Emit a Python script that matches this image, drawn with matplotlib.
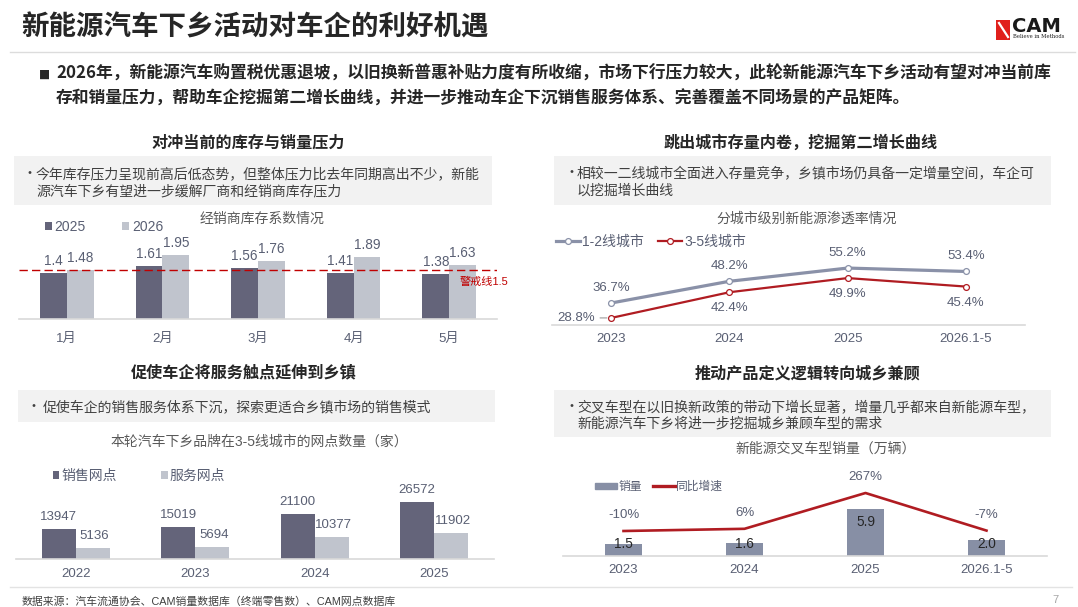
import matplotlib
matplotlib.use("Agg")
import matplotlib.pyplot as plt
from matplotlib.patches import Rectangle, Patch
from matplotlib.lines import Line2D

plt.rcParams['font.family'] = ['Liberation Sans', 'Noto Sans CJK SC', 'DejaVu Sans']
plt.rcParams['axes.unicode_minus'] = False

# ---- data ----
months = ['1月', '2月', '3月', '4月', '5月']
stock_2025 = [1.40, 1.61, 1.56, 1.41, 1.38]
stock_2026 = [1.48, 1.95, 1.76, 1.89, 1.63]
warn_level = 1.5

city_years = ['2023', '2024', '2025', '2026.1-5']
tier12 = [36.7, 48.2, 55.2, 53.4]
tier35 = [28.8, 42.4, 49.9, 45.4]

outlet_years = ['2022', '2023', '2024', '2025']
sales_outlets = [13947, 15019, 21100, 26572]
service_outlets = [5136, 5694, 10377, 11902]

cross_years = ['2023', '2024', '2025', '2026.1-5']
cross_sales = [1.5, 1.6, 5.9, 2.0]
cross_yoy = [-10, 6, 267, -7]

# ---- colours ----
DARK = '#262626'
TXT = '#404040'
SUB = '#595959'
LBL = '#595f73'
AXL = '#d9d9d9'
BOX = '#f2f2f2'
BAR_DARK = '#64647a'
BAR_LIGHT = '#c0c4cd'
BAR_MID = '#878fa5'
LINE_GRAY = '#8a91a8'
RED = '#b01c22'

CJK = ['Noto Sans CJK SC', 'DejaVu Sans']

W, H = 1078, 607
fig = plt.figure(figsize=(W / 100, H / 100), dpi=100)
fig.patch.set_facecolor('white')


def px_axes(x0, y0, x1, y1):
    ax = fig.add_axes([x0 / W, 1 - y1 / H, (x1 - x0) / W, (y1 - y0) / H])
    ax.patch.set_alpha(0)
    for s in ['top', 'right', 'left']:
        ax.spines[s].set_visible(False)
    ax.spines['bottom'].set_color(AXL)
    ax.spines['bottom'].set_linewidth(1.2)
    ax.set_yticks([])
    ax.tick_params(axis='x', length=0, labelsize=9.5, labelcolor=LBL)
    return ax


def ftext(x, y, s, **kw):
    kw.setdefault('va', 'center')
    return fig.text(x / W, 1 - y / H, s, **kw)


def fbox(x0, y0, x1, y1, color):
    fig.patches.append(Rectangle((x0 / W, 1 - y1 / H), (x1 - x0) / W, (y1 - y0) / H,
                                 transform=fig.transFigure, facecolor=color,
                                 edgecolor='none', zorder=0))


def fline(x0, x1, y, color, lw=1.0):
    fig.add_artist(Line2D([x0 / W, x1 / W], [1 - y / H, 1 - y / H],
                          color=color, lw=lw, transform=fig.transFigure))


# ---- header ----
ftext(21, 28, '新能源汽车下乡活动对车企的利好机遇', fontsize=19.8, fontweight='bold',
      color=DARK, family=CJK)
fline(10, 1075, 52, '#dcdcdc', 1.0)

# logo
fig.patches.append(Rectangle((996 / W, 1 - 40 / H), 14 / W, 20 / H, transform=fig.transFigure,
                             facecolor='#e0201c', edgecolor='none'))
fig.add_artist(Line2D([999 / W, 1008 / W], [1 - 23 / H, 1 - 37 / H], color='white', lw=1.6,
                      transform=fig.transFigure))
ftext(1012, 26, 'CAM', fontsize=14, fontweight='bold', color='#1a1a1a', family='DejaVu Sans')
ftext(1013, 36.5, 'Believe in Methods', fontsize=3.8, color='#1a1a1a', family='DejaVu Serif')

ftext(39, 74, '■', fontsize=8.5, color=DARK, family='DejaVu Sans')
ftext(56, 74, '2026年，新能源汽车购置税优惠退坡，以旧换新普惠补贴力度有所收缩，市场下行压力较大，此轮新能源汽车下乡活动有望对冲当前库',
      fontsize=12.1, fontweight='bold', color=DARK, family=CJK)
ftext(56, 99, '存和销量压力，帮助车企挖掘第二增长曲线，并进一步推动车企下沉销售服务体系、完善覆盖不同场景的产品矩阵。',
      fontsize=12.1, fontweight='bold', color=DARK, family=CJK)

# ---- panel titles and text boxes ----
ftext(248, 143, '对冲当前的库存与销量压力', fontsize=11.6, fontweight='bold', color=DARK,
      family=CJK, ha='center')
ftext(801, 143, '跳出城市存量内卷，挖掘第二增长曲线', fontsize=11.6, fontweight='bold', color=DARK,
      family=CJK, ha='center')
ftext(244, 372, '促使车企将服务触点延伸到乡镇', fontsize=11.6, fontweight='bold', color=DARK,
      family=CJK, ha='center')
ftext(808, 373, '推动产品定义逻辑转向城乡兼顾', fontsize=11.6, fontweight='bold', color=DARK,
      family=CJK, ha='center')

fbox(14, 156, 492, 205, BOX)
fbox(554, 156, 1051, 205, BOX)
fbox(18, 390, 495, 422, BOX)
fbox(554, 390, 1051, 437, BOX)

bullet_kw = dict(fontsize=10, color=TXT, family=CJK)
ftext(22, 174, '•', **bullet_kw)
ftext(36, 174, '今年库存压力呈现前高后低态势，但整体压力比去年同期高出不少，新能', **bullet_kw)
ftext(36, 191, '源汽车下乡有望进一步缓解厂商和经销商库存压力', **bullet_kw)
ftext(564, 173, '•', **bullet_kw)
ftext(577, 173, '相较一二线城市全面进入存量竞争，乡镇市场仍具备一定增量空间，车企可', **bullet_kw)
ftext(577, 191, '以挖掘增长曲线', **bullet_kw)
ftext(26, 407, '•', **bullet_kw)
ftext(43, 407, '促使车企的销售服务体系下沉，探索更适合乡镇市场的销售模式', **bullet_kw)
ftext(564, 407, '•', **bullet_kw)
ftext(577, 407, '交叉车型在以旧换新政策的带动下增长显著，增量几乎都来自新能源车型，', **bullet_kw)
ftext(577, 424, '新能源汽车下乡将进一步挖掘城乡兼顾车型的需求', **bullet_kw)

# chart titles
ftext(262, 219, '经销商库存系数情况', fontsize=10, color=SUB, ha='center')
ftext(807, 219, '分城市级别新能源渗透率情况', fontsize=10, color=SUB, ha='center')
ftext(259, 442, '本轮汽车下乡品牌在3-5线城市的网点数量（家）', fontsize=10, color=SUB, ha='center')
ftext(826, 449, '新能源交叉车型销量（万辆）', fontsize=10, color=SUB, ha='center')

# ---- chart 1: dealer inventory coefficient ----
ax1 = px_axes(19, 230, 497, 319)
x1 = list(range(len(months)))
bw = 0.28
b25 = ax1.bar([i - bw / 2 for i in x1], stock_2025, bw, color=BAR_DARK, label='2025', zorder=2)
b26 = ax1.bar([i + bw / 2 for i in x1], stock_2026, bw, color=BAR_LIGHT, label='2026', zorder=2)
ax1.axhline(warn_level, color='#c00000', lw=1.0, ls=(0, (6, 3)), zorder=3)
for i in x1:
    ax1.annotate(f'{stock_2025[i]:g}', (i - bw / 2, stock_2025[i]), xytext=(0, 8.6),
                 textcoords='offset points', ha='center', va='center', fontsize=9.8, color=LBL)
    ax1.annotate(f'{stock_2026[i]:g}', (i + bw / 2, stock_2026[i]), xytext=(0, 8.6),
                 textcoords='offset points', ha='center', va='center', fontsize=9.8, color=LBL)
ax1.set_xlim(-0.5, len(months) - 0.5)
ax1.set_ylim(0, 2.705)
ax1.set_xticks(x1)
ax1.set_xticklabels(months)
ax1.tick_params(axis='x', pad=10)
ftext(460, 282, '警戒线1.5', fontsize=8, color='#c00000')
ax1.legend(handles=[b25, b26], loc='center left', bbox_to_anchor=(45 / W, 1 - 227 / H),
           bbox_transform=fig.transFigure, ncol=2, frameon=False, fontsize=10,
           labelcolor=LBL, handlelength=0.5, handleheight=0.5, handletextpad=0.2,
           columnspacing=2.6, borderpad=0, borderaxespad=0)

# ---- chart 2: NEV penetration by city tier ----
ax2 = px_axes(552, 235, 1025, 325)
x2 = list(range(len(city_years)))
l12, = ax2.plot(x2, tier12, color=LINE_GRAY, lw=2.3, marker='o', ms=4.2, mfc='white',
                mec=LINE_GRAY, mew=0.9, label='1-2线城市', zorder=3)
l35, = ax2.plot(x2, tier35, color=RED, lw=1.6, marker='o', ms=4.2, mfc='white',
                mec=RED, mew=0.9, label='3-5线城市', zorder=3)
for i in x2:
    ax2.annotate(f'{tier12[i]:.1f}%', (i, tier12[i]), xytext=(0, 11), textcoords='offset points',
                 ha='center', va='center', fontsize=9.5, color=LBL)
    if i == 0:
        ax2.annotate(f'{tier35[i]:.1f}%', (i, tier35[i]), xytext=(-12, 0),
                     textcoords='offset points', ha='right', va='center', fontsize=9.5,
                     color=LBL, arrowprops=dict(arrowstyle='-', color='#8c8c8c', lw=0.7,
                                                shrinkA=2, shrinkB=3))
    else:
        ax2.annotate(f'{tier35[i]:.1f}%', (i, tier35[i]), xytext=(0, -11.5),
                     textcoords='offset points', ha='center', va='center', fontsize=9.5,
                     color=LBL)
ax2.set_xlim(-0.5, len(city_years) - 0.5)
ax2.set_ylim(25.06, 72.7)
ax2.set_xticks(x2)
ax2.set_xticklabels(city_years)
ax2.tick_params(axis='x', pad=5.5)
ax2.legend(handles=[l12, l35], loc='center left', bbox_to_anchor=(556 / W, 1 - 242 / H),
           bbox_transform=fig.transFigure, ncol=2, frameon=False, fontsize=10,
           labelcolor=LBL, handlelength=1.75, handletextpad=0.15, columnspacing=1.0,
           borderpad=0, borderaxespad=0)

# ---- chart 3: outlets in tier 3-5 cities ----
ax3 = px_axes(16, 465, 494, 559)
x3 = list(range(len(outlet_years)))
bw3 = 0.285
s1 = ax3.bar([i - bw3 / 2 for i in x3], sales_outlets, bw3, color=BAR_DARK, label='销售网点')
s2 = ax3.bar([i + bw3 / 2 for i in x3], service_outlets, bw3, color=BAR_LIGHT, label='服务网点')
for i in x3:
    ax3.annotate(f'{sales_outlets[i]}', (i - bw3 / 2, sales_outlets[i]), xytext=(0, 8.6),
                 textcoords='offset points', ha='center', va='center', fontsize=9.5, color=LBL)
    ax3.annotate(f'{service_outlets[i]}', (i + bw3 / 2, service_outlets[i]), xytext=(1, 8.6),
                 textcoords='offset points', ha='center', va='center', fontsize=9.5, color=LBL)
ax3.set_xlim(-0.5, len(outlet_years) - 0.5)
ax3.set_ylim(0, 43720)
ax3.set_xticks(x3)
ax3.set_xticklabels(outlet_years)
ax3.tick_params(axis='x', pad=6.5)
ax3.legend(handles=[s1, s2], loc='center left', bbox_to_anchor=(53 / W, 1 - 476 / H),
           bbox_transform=fig.transFigure, ncol=2, frameon=False, fontsize=10,
           labelcolor=LBL, handlelength=0.45, handleheight=0.45, handletextpad=0.15,
           columnspacing=3.2, borderpad=0, borderaxespad=0)

# ---- chart 4: NEV crossover sales and yoy growth ----
ax4 = px_axes(563, 462, 1047, 556)
x4 = list(range(len(cross_years)))
bars4 = ax4.bar(x4, cross_sales, 0.306, color=BAR_MID, label='销量', zorder=2)
for i in x4:
    ax4.text(i, max(cross_sales[i] - 1.6, 1.5), f'{cross_sales[i]:.1f}', ha='center',
             va='center', fontsize=9.8, color=DARK, zorder=4)
ax4.set_xlim(-0.5, len(cross_years) - 0.5)
ax4.set_ylim(0, 11.75)
ax4.set_xticks(x4)
ax4.set_xticklabels(cross_years)
ax4.tick_params(axis='x', pad=5.5)
ax4r = ax4.twinx()
ax4r.patch.set_alpha(0)
for s in ax4r.spines.values():
    s.set_visible(False)
ax4r.set_yticks([])
yoy_line, = ax4r.plot(x4, cross_yoy, color=RED, lw=1.9, label='同比增速', zorder=3)
for i in x4:
    ax4r.annotate(f'{cross_yoy[i]}%', (i, cross_yoy[i]), xytext=(0, 11.5),
                  textcoords='offset points', ha='center', va='center', fontsize=9.5, color=LBL)
ax4r.set_ylim(-192.2, 492.9)
ax4.legend(handles=[Patch(color=BAR_MID), Line2D([], [], color=RED, lw=2.4)],
           labels=['销量', '同比增速'], loc='center left',
           bbox_to_anchor=(595 / W, 1 - 487 / H), bbox_transform=fig.transFigure, ncol=2,
           frameon=False, fontsize=8.5, labelcolor=LBL, handlelength=1.85, handleheight=0.42,
           handletextpad=0.15, columnspacing=0.9, borderpad=0, borderaxespad=0)

# ---- footer ----
fline(10, 1072, 587, '#e3e3e3', 1.0)
ftext(22, 602, '数据来源：汽车流通协会、CAM销量数据库（终端零售数）、CAM网点数据库', fontsize=7.8,
      color=TXT)
ftext(1055, 600, '7', fontsize=8, color='#a6a6a6', ha='center')

fig.savefig('out.png', dpi=100)
